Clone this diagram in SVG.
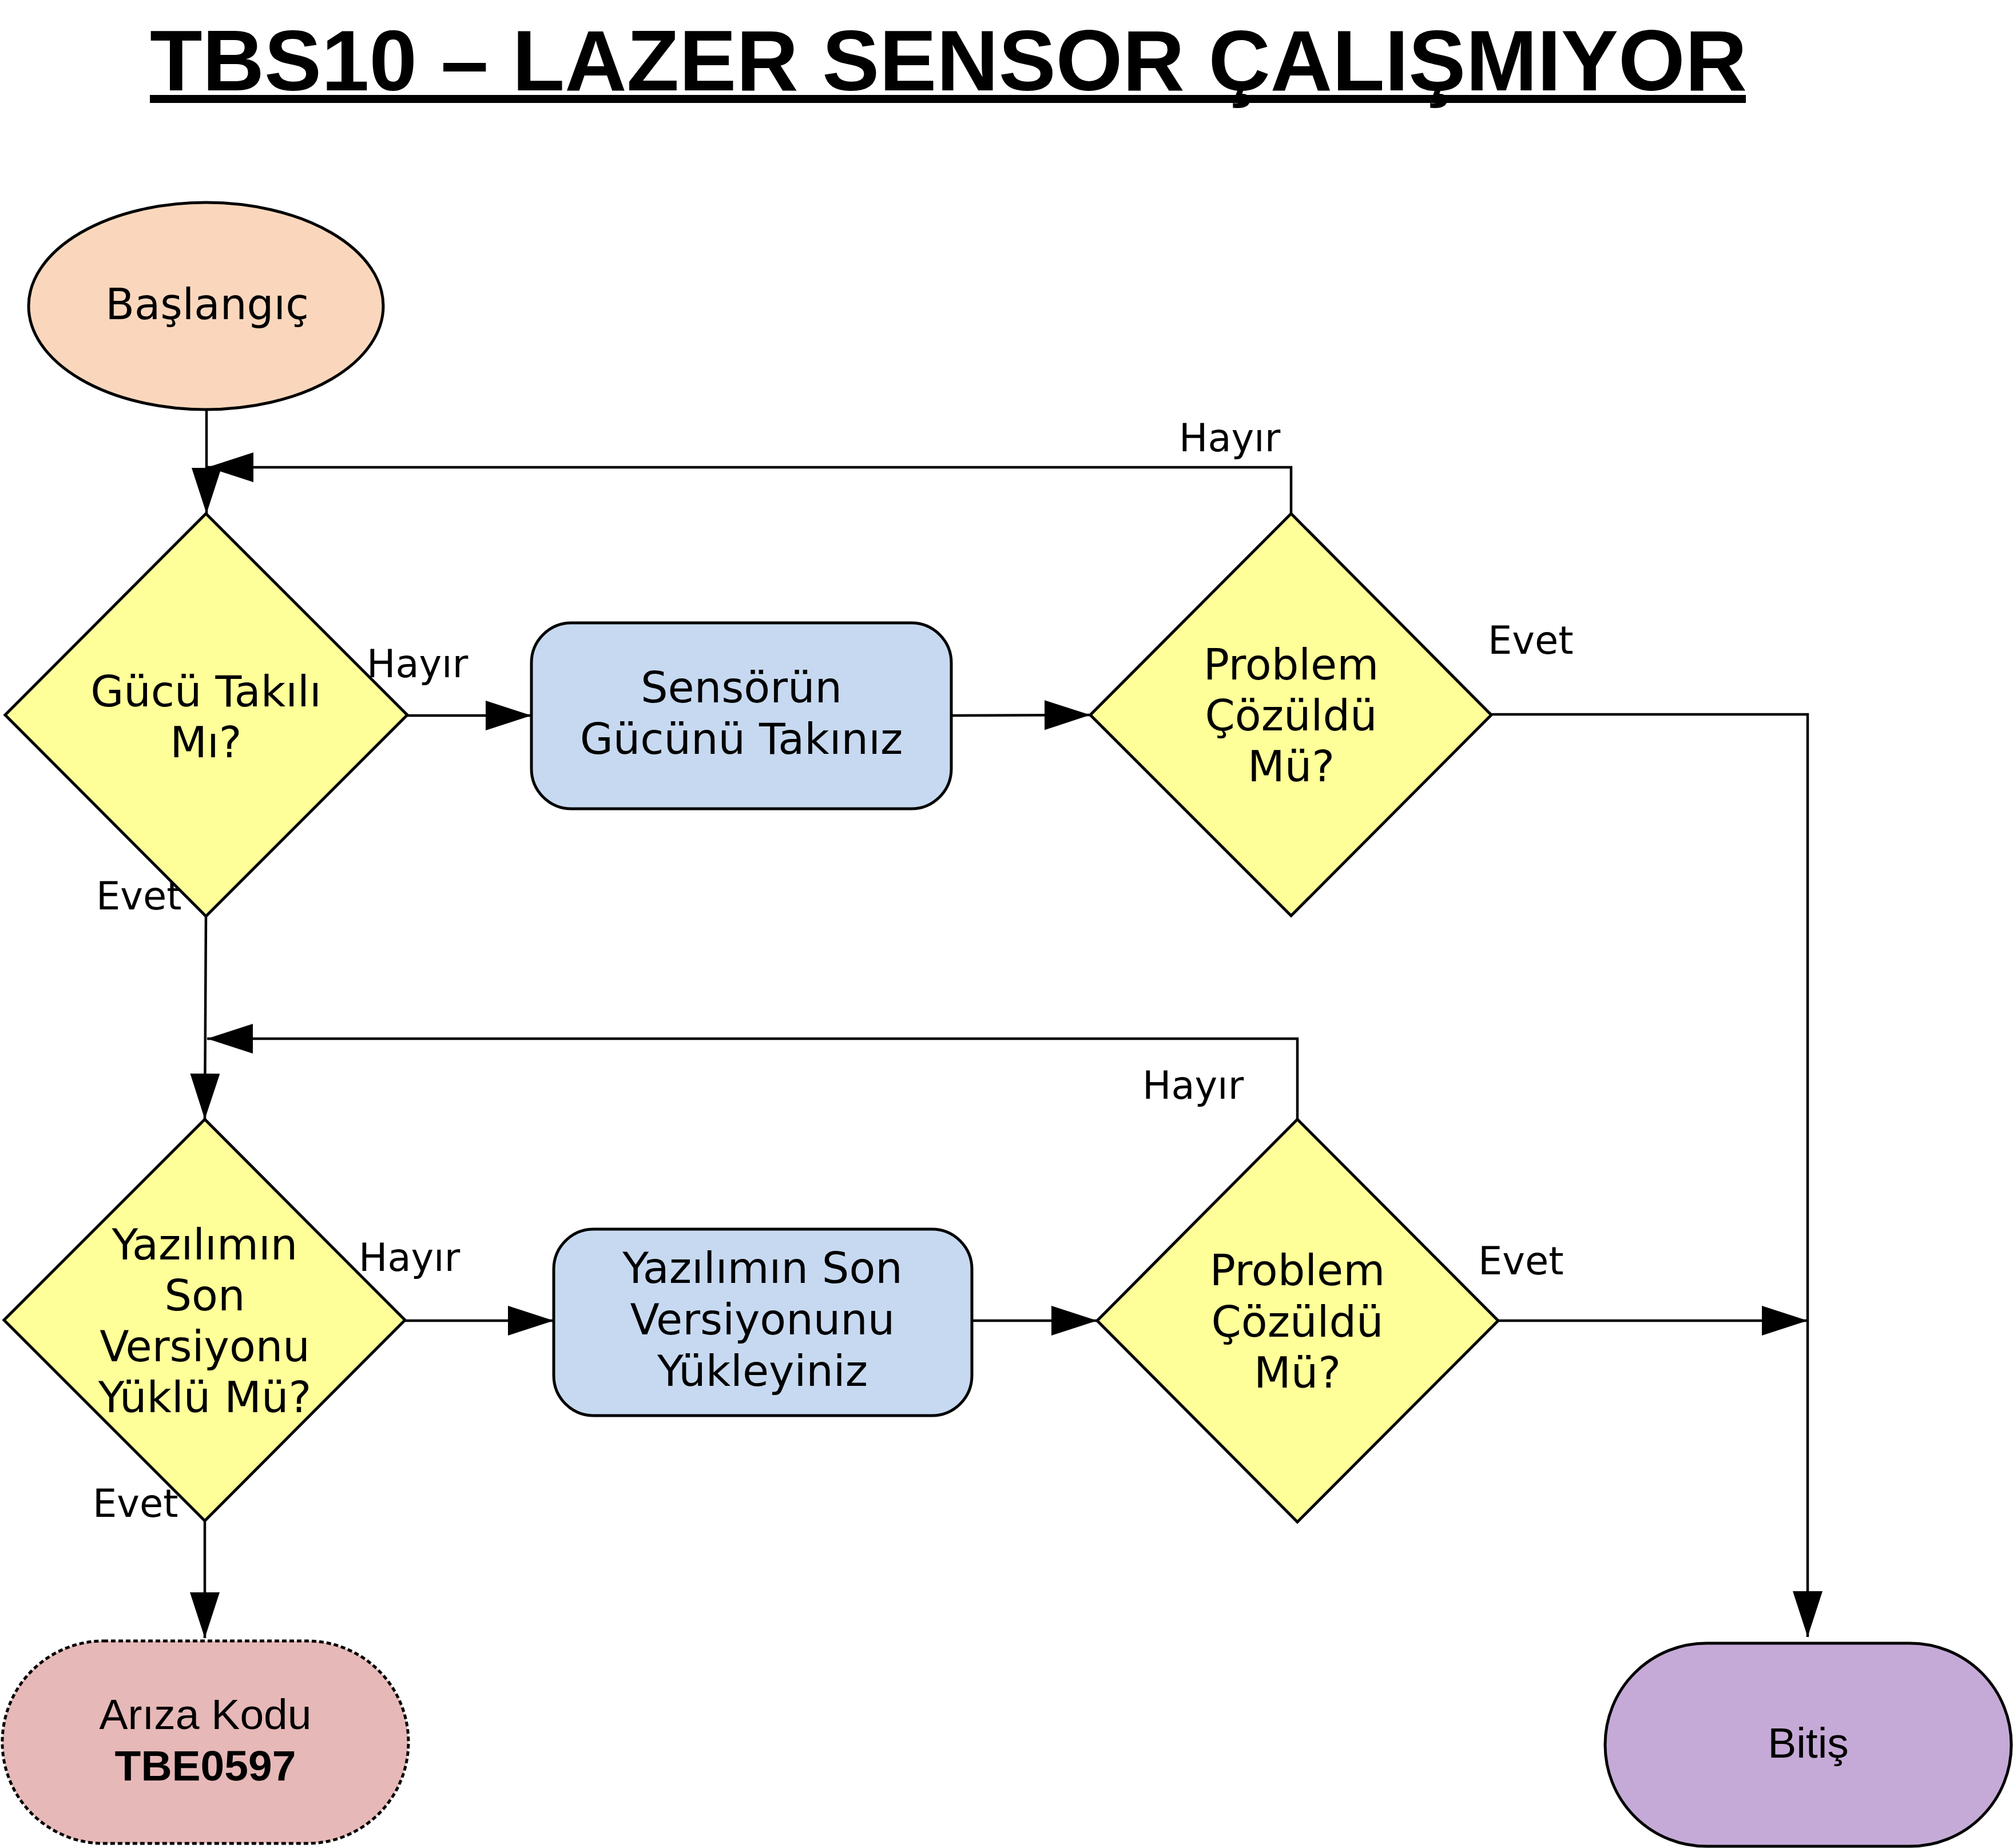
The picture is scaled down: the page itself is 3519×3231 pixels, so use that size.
<svg xmlns="http://www.w3.org/2000/svg" width="3519" height="3231" viewBox="0 0 3519 3231">
<defs>
<style>
.shape{stroke:#000;stroke-width:5}
.dia{fill:#FFFF99}
.proc{fill:#C6D9F0}
.t{font-family:"DejaVu Sans",Verdana,sans-serif;font-size:75px;fill:#000;text-anchor:middle}
.lbl{font-family:"DejaVu Sans",Verdana,sans-serif;font-size:67px;fill:#000}
.a{font-family:"Liberation Sans",Arial,sans-serif;font-size:75px;fill:#000;text-anchor:middle}
.conn{fill:none;stroke:#000;stroke-width:4.5;marker-end:url(#arr)}
.plain{fill:none;stroke:#000;stroke-width:4.5}
</style>
<marker id="arr" markerUnits="userSpaceOnUse" markerWidth="82" markerHeight="54" refX="80" refY="26" orient="auto" viewBox="0 0 82 54">
<path d="M0,0 L80,26 L0,52 Z" fill="#000"/>
</marker>
</defs>
<rect width="3519" height="3231" fill="#fff"/>

<g id="title">
<text x="262" y="158" font-family="'Liberation Sans',Arial,sans-serif" font-weight="bold" font-size="150">TBS10 – LAZER SENSOR ÇALIŞMIYOR</text>
<rect x="262" y="166" width="2790" height="14" fill="#000"/>
</g>

<g id="connectors">
<path class="conn" d="M361,716 L361,898"/>
<path class="conn" d="M712,1251 L929,1251"/>
<path class="conn" d="M1663,1251 L1906,1250"/>
<path class="conn" d="M2257,898 L2257,817 L363,817"/>
<path class="plain" d="M2607,1249 L3160,1249 L3160,2300"/>
<path class="conn" d="M3160,2300 L3160,2862"/>
<path class="conn" d="M360,1602 L358,1957"/>
<path class="conn" d="M708,2309 L968,2309"/>
<path class="conn" d="M1699,2309 L1918,2309"/>
<path class="conn" d="M2268,1957 L2268,1816 L362,1816"/>
<path class="conn" d="M2619,2309 L3160,2309"/>
<path class="conn" d="M358,2659 L358,2864"/>
<text class="lbl" x="641" y="1184">Hayır</text>
<text class="lbl" x="2061" y="789">Hayır</text>
<text class="lbl" x="2601" y="1143">Evet</text>
<text class="lbl" x="168" y="1590">Evet</text>
<text class="lbl" x="627" y="2222">Hayır</text>
<text class="lbl" x="1997" y="1921">Hayır</text>
<text class="lbl" x="2584" y="2228">Evet</text>
<text class="lbl" x="162" y="2652">Evet</text>
</g>

<g id="start">
<ellipse class="shape" cx="360" cy="535" rx="310" ry="181" fill="#FAD7BC"/>
<text class="t" x="362" y="558" style="font-size:74px">Başlangıç</text>
</g>

<g id="d1">
<polygon class="shape dia" points="360,898 712,1250 360,1602 9,1250"/>
<text class="t" x="360" y="1235">Gücü Takılı</text>
<text class="t" x="360" y="1324">Mı?</text>
</g>

<g id="p1">
<rect class="shape proc" x="929" y="1089" width="734" height="325" rx="70" ry="70"/>
<text class="t" x="1296" y="1228">Sensörün</text>
<text class="t" x="1296" y="1318">Gücünü Takınız</text>
</g>

<g id="d2">
<polygon class="shape dia" points="2257,898 2607,1250 2257,1601 1906,1250"/>
<text class="t" x="2257" y="1188">Problem</text>
<text class="t" x="2257" y="1277">Çözüldü</text>
<text class="t" x="2257" y="1366">Mü?</text>
</g>

<g id="d3">
<polygon class="shape dia" points="358,1957 708,2308 358,2659 7,2308"/>
<text class="t" x="358" y="2202">Yazılımın</text>
<text class="t" x="358" y="2291">Son</text>
<text class="t" x="358" y="2380">Versiyonu</text>
<text class="t" x="358" y="2469">Yüklü Mü?</text>
</g>

<g id="p2">
<rect class="shape proc" x="968" y="2149" width="731" height="326" rx="70" ry="70"/>
<text class="t" x="1333" y="2243">Yazılımın Son</text>
<text class="t" x="1333" y="2333">Versiyonunu</text>
<text class="t" x="1333" y="2423">Yükleyiniz</text>
</g>

<g id="d4">
<polygon class="shape dia" points="2268,1957 2619,2309 2268,2661 1918,2309"/>
<text class="t" x="2268" y="2247">Problem</text>
<text class="t" x="2268" y="2337">Çözüldü</text>
<text class="t" x="2268" y="2426">Mü?</text>
</g>

<g id="fault">
<rect x="4" y="2869" width="710" height="354" rx="177" ry="177" fill="#E6B8B7" stroke="#000" stroke-width="5" stroke-dasharray="8 5"/>
<text class="a" x="359" y="3023">Arıza Kodu</text>
<text class="a" x="359" y="3113" font-weight="bold">TBE0597</text>
</g>

<g id="end">
<rect class="shape" x="2806" y="2873" width="710" height="355" rx="177" ry="177" fill="#C5AAD7"/>
<text class="a" x="3161" y="3073">Bitiş</text>
</g>
</svg>
